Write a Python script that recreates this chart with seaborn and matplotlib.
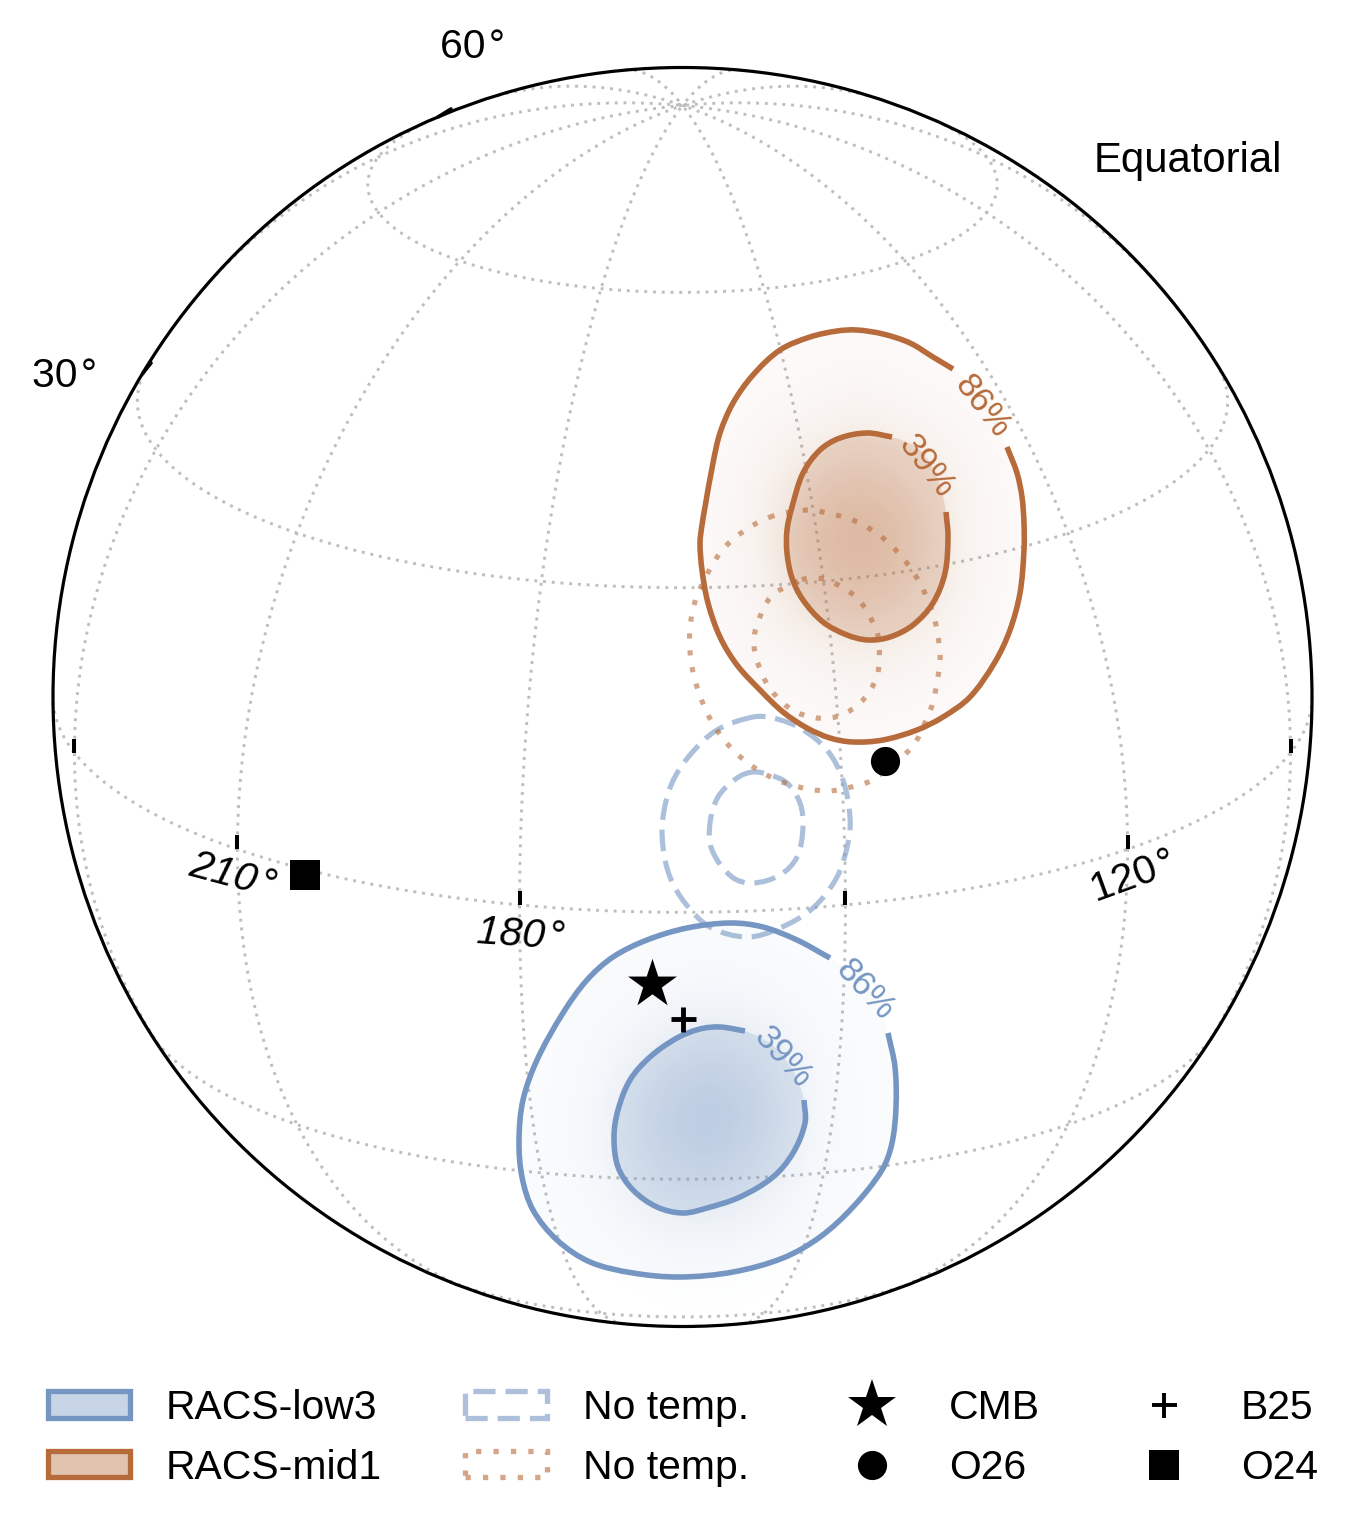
import numpy as np
import matplotlib
matplotlib.use("Agg")
import matplotlib.pyplot as plt
from matplotlib.colors import LinearSegmentedColormap, to_rgba
from matplotlib.lines import Line2D
from matplotlib.patches import Circle, Patch, PathPatch
from matplotlib.path import Path
import seaborn as sns

# contour outlines (picture x, y)
mid86_x = [1007,1017,1022,1024,1024,1020,1010,995,970,943,917,883,853,830,807,783,760,737,720,708,702,700,702,705,713,720,733,753,780,810,837,857,883,910,933,953]
mid86_y = [447,473,497,523,550,593,630,662,697,717,730,740,742,738,728,712,690,665,637,603,570,543,525,507,463,433,403,375,350,337,331,330,334,343,357,369]
mid86_gap_x = [975,995]; mid86_gap_y = [390,420]
mid39_x = [946,948,945,933,913,890,868,847,823,803,792,787,787,792,803,820,840,867,892]
mid39_y = [512,537,573,603,625,637,640,635,622,600,578,553,530,507,473,450,438,433,437]
mid39_gap_x = [920,938]; mid39_gap_y = [450,480]
mid86nt_x = [773,744,720,697,690,691,699,713,733,758,788,827,859,874,912,927,933,939,940,935,923,906,883,855,823,807]
mid86nt_y = [516,531,553,596,628,661,693,724,750,770,784,791,785,779,747,718,702,670,653,621,589,562,538,521,512,510]
mid39nt_x = [798,770,756,754,757,771,796,830,859,877,879,875,858,830,813]
mid39nt_y = [581,598,628,644,661,690,712,718,704,676,643,627,599,581,578]
low86_x = [888,895,896,892,882,853,820,783,733,680,633,590,557,533,522,519,523,537,563,587,613,647,687,730,763,797,830]
low86_y = [1033,1067,1107,1143,1170,1207,1237,1258,1272,1277,1273,1262,1240,1210,1177,1140,1100,1060,1013,980,957,940,928,923,927,940,958]
low86_gap_x = [860,878]; low86_gap_y = [978,1005]
low39_x = [804,805,793,773,740,707,683,657,633,618,614,618,630,650,677,700,720,745]
low39_y = [1100,1123,1153,1177,1197,1208,1213,1207,1190,1167,1137,1110,1080,1057,1038,1029,1027,1031]
low39_gap_x = [772,793]; low39_gap_y = [1045,1070]
low86nt_x = [753,717,690,672,663,663,670,685,710,747,780,813,837,848,850,843,827,800,773]
low86nt_y = [717,730,755,783,817,847,877,903,927,937,928,908,877,843,817,780,750,728,718]
low39nt_x = [753,737,718,710,712,732,753,780,797,803,800,787,770]
low39nt_y = [772,778,797,823,850,877,883,875,857,827,803,783,775]

# shading, in percent opacity
mid_shade = [[0,0,0,0,0,0,0,0,0],
             [0,0,0,0,1,0,0,0,0],
             [0,0,1,3,7,3,1,0,0],
             [0,0,3,17,26,17,3,0,0],
             [0,0,4,26,38,26,4,0,0],
             [0,0,3,17,26,18,3,0,0],
             [0,0,1,3,8,4,1,0,0],
             [0,0,0,0,1,0,0,0,0],
             [0,0,0,0,0,0,0,0,0]]
low_shade = [[0,0,0,0,0,0,0,0,0],
             [0,0,0,0,1,0,0,0,0],
             [0,0,1,3,7,5,1,0,0],
             [0,0,3,15,26,20,3,0,0],
             [0,0,5,26,38,28,5,0,0],
             [0,0,4,19,26,17,3,0,0],
             [0,0,1,5,8,4,1,0,0],
             [0,0,0,0,1,0,0,0,0],
             [0,0,0,0,0,0,0,0,0]]

# other points
star_xy = (652, 984); plus_xy = (683, 1019); circle_xy = (885, 761); square_xy = (304.5, 874.5)
ra_grid = list(range(0, 360, 30)); dec_grid = [-60, -30, 0, 30, 60]
ra_ticks = [240, 210, 180, 150, 120, 90]
legend_labels = ["RACS-low3", "RACS-mid1", "No temp.", "No temp.", "CMB", "O26", "B25", "O24"]

BLUE = "#7596C3"; BROWN = "#B76B3A"; GRID = "#BEBEBE"
CX, CY, R = 682.5, 697.0, 629.5
RA0, DEC0 = np.radians(165.0), np.radians(20.0)

sns.set_theme(style="white")
plt.rcParams["font.family"] = ["Liberation Sans", "DejaVu Sans"]
plt.rcParams["text.color"] = "black"
FS = 29.4

fig = plt.figure(figsize=(13.65, 15.35), dpi=100, facecolor="white")
ax = fig.add_axes([0, 0, 1, 1])
ax.axis("off")


def project(ra, dec):
    ra, dec = np.radians(ra), np.radians(dec)
    d = RA0 - ra
    cosc = np.sin(DEC0) * np.sin(dec) + np.cos(DEC0) * np.cos(dec) * np.cos(d)
    x = np.cos(dec) * np.sin(d)
    y = np.cos(DEC0) * np.sin(dec) - np.sin(DEC0) * np.cos(dec) * np.cos(d)
    keep = cosc >= 0
    return (CX + R * x)[keep], (CY - R * y)[keep]


grid_ls = (0, (1, 2))
for ra in ra_grid:
    x, y = project(np.full(361, float(ra)), np.linspace(-90, 90, 361))
    sns.lineplot(x=x, y=y, sort=False, estimator=None, color=GRID, lw=2.1, linestyle=grid_ls, ax=ax, zorder=1, legend=False)
for dec in dec_grid:
    x, y = project(np.linspace(165 - 180, 165 + 180, 721), np.full(721, float(dec)))
    sns.lineplot(x=x, y=y, sort=False, estimator=None, color=GRID, lw=2.1, linestyle=grid_ls, ax=ax, zorder=1, legend=False)


def shade(values, color, extent):
    cmap = LinearSegmentedColormap.from_list("s", [to_rgba(color, 0), to_rgba(color, 1)])
    ax.imshow(np.array(values) / 100.0, cmap=cmap, vmin=0, vmax=1, extent=extent, origin="upper",
              interpolation="bicubic", interpolation_stage="data", zorder=2, aspect="auto")


shade(mid_shade, BROWN, (635, 1085, 787.5, 292.5))
shade(low_shade, BLUE, (480, 930, 1367.5, 872.5))
ax.set_xlim(0, 1365); ax.set_ylim(1535, 0)


def smooth_path(xs, ys, closed=True):
    """Smooth Bezier path through the read points."""
    p = np.column_stack([xs, ys]).astype(float)
    n = len(p)
    tan = np.array([p[(i + 1) % n] - p[(i - 1) % n] for i in range(n)])
    if not closed:
        tan[0] = p[1] - p[0]
        tan[-1] = p[-1] - p[-2]
    tan /= np.linalg.norm(tan, axis=1, keepdims=True)
    verts = [p[0]]; codes = [Path.MOVETO]
    for i in range(n if closed else n - 1):
        j = (i + 1) % n
        h = np.linalg.norm(p[j] - p[i]) / 3
        verts += [p[i] + tan[i] * h, p[j] - tan[j] * h, p[j]]
        codes += [Path.CURVE4] * 3
    return Path(np.array(verts), codes)


def fill(xs, ys, color, alpha):
    ax.add_patch(PathPatch(smooth_path(xs, ys), fc=to_rgba(color, alpha), ec="none", lw=0, zorder=3))


def stroke(xs, ys, color, closed=False, ls="-", alpha=1.0, lw=4.0):
    ax.add_patch(PathPatch(smooth_path(xs, ys, closed), fill=False, ec=to_rgba(color, alpha), lw=lw, ls=ls,
                           capstyle="butt", joinstyle="round", zorder=4))


fill(mid86_x + mid86_gap_x, mid86_y + mid86_gap_y, BROWN, 0.035)
fill(mid39_x + mid39_gap_x, mid39_y + mid39_gap_y, BROWN, 0.20)
fill(low86_x + low86_gap_x, low86_y + low86_gap_y, BLUE, 0.03)
fill(low39_x + low39_gap_x, low39_y + low39_gap_y, BLUE, 0.20)

DASH = (0, (4.2, 1.9)); DOT = (0, (1, 2.3))
stroke(low86nt_x, low86nt_y, BLUE, True, DASH, 0.6, 3.7)
stroke(low39nt_x, low39nt_y, BLUE, True, DASH, 0.6, 3.7)
stroke(mid86nt_x, mid86nt_y, BROWN, True, DOT, 0.6, 3.7)
stroke(mid39nt_x, mid39nt_y, BROWN, True, DOT, 0.6, 3.7)
stroke(low86_x, low86_y, BLUE)
stroke(low39_x, low39_y, BLUE)
stroke(mid86_x, mid86_y, BROWN)
stroke(mid39_x, mid39_y, BROWN)

for (xy, m, ms, lw) in [(star_xy, "*", 37, 0), (circle_xy, "o", 21, 0), (square_xy, "s", 21.5, 0), (plus_xy, "+", 18, 3.5)]:
    sns.scatterplot(x=[xy[0]], y=[xy[1]], marker=m, s=ms ** 2, linewidth=lw, color="black", ax=ax, zorder=6, legend=False)

ax.add_patch(Circle((CX, CY), R, fill=False, ec="black", lw=2.3, zorder=7))
tx, ty = project(np.array(ra_ticks, float), np.zeros(len(ra_ticks)))
for a, b in zip(tx, ty):
    ax.plot([a, a], [b - 14, b], color="black", lw=2.9, solid_capstyle="butt", zorder=7)
ax.plot([438, 451], [117, 109], color="black", lw=2.6, zorder=7)
ax.plot([143, 151], [373, 363], color="black", lw=2.6, zorder=7)

for txt, x, y, rot, sty in [("60\u200a°", 473, 47, 0, "normal"), ("30\u200a°", 65, 376, 0, "normal"),
                            ("210\u200a°", 233, 876, -15, "italic"), ("180\u200a°", 521, 935, -4, "italic"),
                            ("120\u200a°", 1133, 877, 20, "normal")]:
    ax.text(x, y, txt, fontsize=FS, rotation=rot, style=sty, ha="center", va="center", color="black", rotation_mode="anchor", zorder=8)
ax.text(1188, 161, "Equatorial", fontsize=FS + 0.8, ha="center", va="center", color="black", zorder=8)

for txt, x, y, rot, c in [("86%", 982, 407, -52, BROWN), ("39%", 927, 467, -52, BROWN),
                          ("86%", 865, 990, -47, BLUE), ("39%", 783, 1057, -48, BLUE)]:
    ax.text(x, y, txt, fontsize=25, rotation=rot, ha="center", va="center", color=c, rotation_mode="anchor", zorder=8)

handles = [
    Patch(fc=to_rgba(BLUE, 0.4), ec=BLUE, lw=3.8),
    Patch(fc=to_rgba(BROWN, 0.4), ec=BROWN, lw=3.8),
    Patch(fill=False, ec=to_rgba(BLUE, 0.6), lw=3.8, ls=DASH),
    Patch(fill=False, ec=to_rgba(BROWN, 0.6), lw=3.8, ls=DOT),
    Line2D([], [], marker="*", ms=37, mew=0, color="black", ls="none"),
    Line2D([], [], marker="o", ms=21, mew=0, color="black", ls="none"),
    Line2D([], [], marker="+", ms=18, mew=2.8, color="black", ls="none"),
    Line2D([], [], marker="s", ms=21, mew=0, color="black", ls="none"),
]
ax.legend(handles, legend_labels, ncol=4, loc="upper left", bbox_to_anchor=(48, 1389), bbox_transform=ax.transData,
          frameon=False, fontsize=FS, handlelength=2.02, handleheight=0.62, handletextpad=0.87, columnspacing=2.02,
          labelspacing=0.53, borderpad=0, borderaxespad=0, numpoints=1, labelcolor="black")

fig.savefig("out.png", dpi=100, facecolor="white")
